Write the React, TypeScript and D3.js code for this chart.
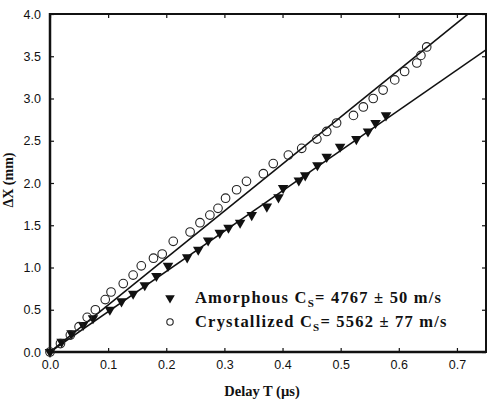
import * as d3 from 'd3';
import React, { useEffect, useRef } from 'react';

// delay T (µs) and displacement ΔX (mm)
const amorphousT = [0, 0.02, 0.037, 0.057, 0.074, 0.103, 0.123, 0.143, 0.163, 0.183, 0.203, 0.236, 0.255, 0.272, 0.292, 0.307, 0.327, 0.347, 0.373, 0.393, 0.401, 0.428, 0.439, 0.46, 0.476, 0.499, 0.527, 0.547, 0.56, 0.578];
const amorphousX = [0, 0.12, 0.22, 0.32, 0.4, 0.5, 0.6, 0.69, 0.79, 0.9, 1.02, 1.12, 1.21, 1.32, 1.41, 1.47, 1.53, 1.62, 1.72, 1.83, 1.94, 2.03, 2.09, 2.21, 2.31, 2.43, 2.52, 2.61, 2.71, 2.8];

const crystallizedT = [0, 0.018, 0.035, 0.05, 0.064, 0.078, 0.095, 0.105, 0.126, 0.143, 0.157, 0.178, 0.193, 0.212, 0.241, 0.258, 0.275, 0.289, 0.302, 0.321, 0.338, 0.367, 0.384, 0.41, 0.433, 0.459, 0.476, 0.493, 0.522, 0.539, 0.556, 0.573, 0.593, 0.61, 0.631, 0.638, 0.648];
const crystallizedX = [0, 0.1, 0.2, 0.3, 0.41, 0.5, 0.62, 0.71, 0.81, 0.91, 1.02, 1.11, 1.16, 1.31, 1.42, 1.53, 1.62, 1.7, 1.82, 1.92, 2.02, 2.11, 2.23, 2.33, 2.41, 2.52, 2.61, 2.71, 2.8, 2.9, 3.0, 3.1, 3.22, 3.32, 3.42, 3.51, 3.61];

// linear fits, mm/µs
const fitSlopes = [4.767, 5.562];

const legendNames = ['Amorphous', 'Crystallized'];
const legendValues = ['4767 ± 50 m/s', '5562 ± 77 m/s'];

const xTicks = [0, 0.1, 0.2, 0.3, 0.4, 0.5, 0.6, 0.7];
const yTicks = [0, 0.5, 1, 1.5, 2, 2.5, 3, 3.5, 4];

const W = 493;
const H = 402;
const m = { left: 50, right: 7, top: 14, bottom: 50 };

const App = () => {
    const ref = useRef<SVGSVGElement>(null);

    useEffect(() => {
        const svg = d3.select(ref.current);
        svg.selectAll('*').remove();

        const x = d3.scaleLinear().domain([0, 0.75]).range([m.left, W - m.right]);
        const y = d3.scaleLinear().domain([0, 4]).range([H - m.bottom, m.top]);

        const serif = '"Liberation Serif", "Times New Roman", serif';
        const sans = '"Liberation Sans", Arial, sans-serif';

        svg.append('clipPath').attr('id', 'plot-clip')
            .append('rect')
            .attr('x', x(0)).attr('y', y(4))
            .attr('width', x(0.75) - x(0)).attr('height', y(0) - y(4));

        // inside ticks on all four sides
        const tickLen = 4;
        const xAxisB = d3.axisBottom(x).tickValues(xTicks).tickSizeInner(-tickLen).tickSizeOuter(0)
            .tickPadding(8).tickFormat(d3.format('.1f'));
        const xAxisT = d3.axisTop(x).tickValues(xTicks).tickSizeInner(-tickLen).tickSizeOuter(0).tickFormat(() => '');
        const yAxisL = d3.axisLeft(y).tickValues(yTicks).tickSizeInner(-tickLen).tickSizeOuter(0)
            .tickPadding(9).tickFormat(d3.format('.1f'));
        const yAxisR = d3.axisRight(y).tickValues(yTicks).tickSizeInner(-tickLen).tickSizeOuter(0).tickFormat(() => '');

        const styleAxis = (g: any) => {
            g.select('.domain').remove();
            g.selectAll('line').attr('stroke', '#111').attr('stroke-width', 1.2);
            g.selectAll('text').attr('fill', '#111').style('font-family', sans).style('font-size', '12.5px');
        };

        svg.append('g').attr('transform', `translate(0,${y(0)})`).call(xAxisB).call(styleAxis);
        svg.append('g').attr('transform', `translate(0,${y(4)})`).call(xAxisT).call(styleAxis);
        svg.append('g').attr('transform', `translate(${x(0)},0)`).call(yAxisL).call(styleAxis);
        svg.append('g').attr('transform', `translate(${x(0.75)},0)`).call(yAxisR).call(styleAxis);

        // frame
        svg.append('line').attr('x1', x(0)).attr('x2', x(0.75)).attr('y1', y(0)).attr('y2', y(0))
            .attr('stroke', '#111').attr('stroke-width', 2.5);
        svg.append('line').attr('x1', x(0)).attr('x2', x(0)).attr('y1', y(0) + 1).attr('y2', y(4) - 1)
            .attr('stroke', '#111').attr('stroke-width', 2.5);
        svg.append('line').attr('x1', x(0)).attr('x2', x(0.75)).attr('y1', y(4)).attr('y2', y(4))
            .attr('stroke', '#111').attr('stroke-width', 2);
        svg.append('line').attr('x1', x(0.75)).attr('x2', x(0.75)).attr('y1', y(0) + 1).attr('y2', y(4) - 1)
            .attr('stroke', '#111').attr('stroke-width', 2);

        // fit lines through the origin
        fitSlopes.forEach(s => {
            svg.append('path')
                .attr('clip-path', 'url(#plot-clip)')
                .attr('d', d3.line<number>().x(t => x(t)).y(t => y(s * t))([0, 0.75]))
                .attr('fill', 'none')
                .attr('stroke', '#111')
                .attr('stroke-width', 1.6);
        });

        const tri = d3.symbol().type(d3.symbolTriangle).size(48);

        svg.append('g')
            .selectAll('path')
            .data(amorphousT)
            .enter()
            .append('path')
            .attr('d', tri)
            .attr('transform', (d, i) => `translate(${x(d)},${y(amorphousX[i])}) rotate(180)`)
            .attr('fill', '#111');

        svg.append('g')
            .selectAll('circle')
            .data(crystallizedT)
            .enter()
            .append('circle')
            .attr('cx', d => x(d))
            .attr('cy', (d, i) => y(crystallizedX[i]))
            .attr('r', 4.3)
            .attr('fill', 'none')
            .attr('stroke', '#222')
            .attr('stroke-width', 1.1);

        // legend
        const legendX = 170;
        const legendY = [298, 322];
        svg.append('path')
            .attr('d', d3.symbol().type(d3.symbolTriangle).size(40))
            .attr('transform', `translate(${legendX},${legendY[0]}) rotate(180)`)
            .attr('fill', '#111');
        svg.append('circle')
            .attr('cx', legendX).attr('cy', legendY[1]).attr('r', 3.2)
            .attr('fill', 'none').attr('stroke', '#222').attr('stroke-width', 1.1);

        legendNames.forEach((name, i) => {
            const t = svg.append('text')
                .attr('x', 195)
                .attr('y', legendY[i] + 5)
                .attr('fill', '#111')
                .style('font-family', serif)
                .style('font-weight', 'bold')
                .style('font-size', '16.5px')
                .style('letter-spacing', '1.2px');
            t.append('tspan').text(`${name} C`);
            t.append('tspan').attr('dy', 4).style('font-size', '11px').text('S');
            t.append('tspan').attr('dy', -4).text(`= ${legendValues[i]}`);
        });

        // axis titles
        svg.append('text')
            .attr('x', 262)
            .attr('y', 396)
            .attr('text-anchor', 'middle')
            .attr('fill', '#111')
            .style('font-family', serif)
            .style('font-weight', 'bold')
            .style('font-size', '14.5px')
            .text('Delay T (µs)');

        svg.append('text')
            .attr('transform', `translate(13,180) rotate(-90)`)
            .attr('text-anchor', 'middle')
            .attr('fill', '#111')
            .style('font-family', serif)
            .style('font-weight', 'bold')
            .style('font-size', '14px')
            .text('ΔX (mm)');
    }, []);

    return (
        <svg
            ref={ref}
            width={W}
            height={H}
            style={{ position: 'absolute', left: 0, top: 0, background: '#fff' }}
        />
    );
};

export default App;
